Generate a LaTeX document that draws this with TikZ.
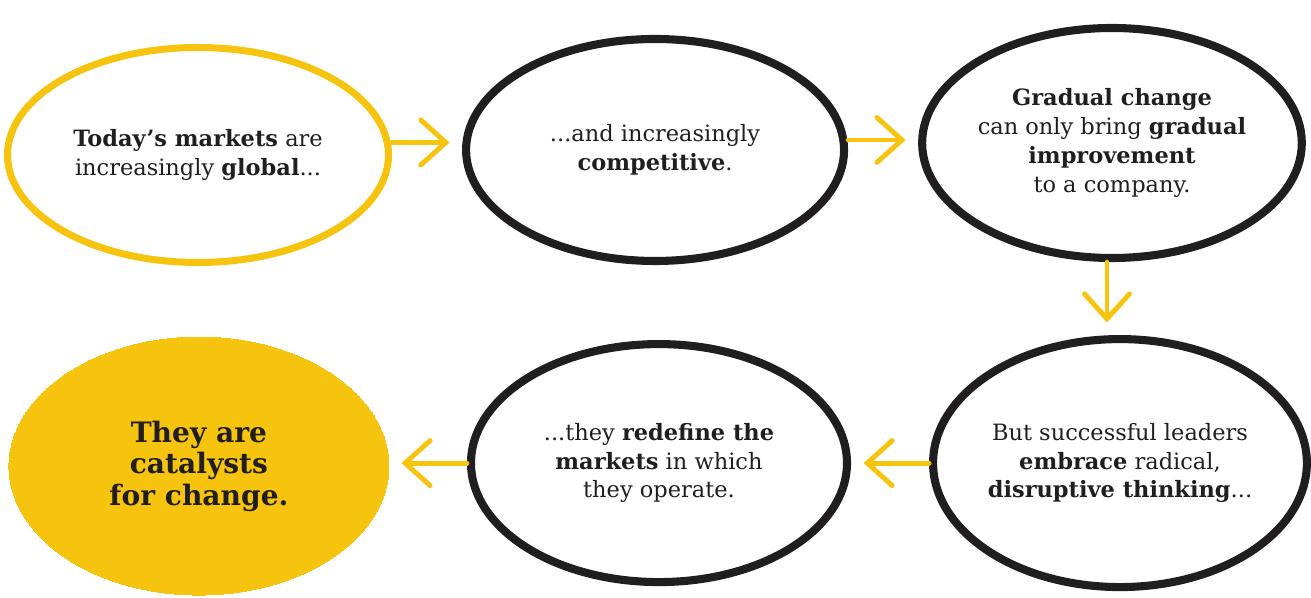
\documentclass[tikz,border=0pt]{standalone}
\usepackage{fontspec}
\setmainfont{DejaVu Serif}
\usepackage{xcolor}
\usepackage{tikz}
\usetikzlibrary{shapes.geometric, arrows.meta, positioning}

\definecolor{mktyellow}{RGB}{246,196,14}
\definecolor{inkblack}{RGB}{32,30,30}

\begin{document}
\begin{tikzpicture}[
    bubble/.style={ellipse, draw=inkblack, line width=4.6pt, align=center, inner sep=0pt, text=inkblack, font=\fontsize{12.8}{16.4}\selectfont},
    startbubble/.style={bubble, draw=mktyellow, line width=4pt},
    endbubble/.style={bubble, draw=mktyellow, fill=mktyellow, line width=0pt, font=\fontsize{16}{18}\selectfont\bfseries},
    flow/.style={-{Straight Barb[length=5mm, width=9mm, line cap=round]}, line width=2.8pt, draw=mktyellow, line cap=round, shorten >=2.5mm}
]
\useasboundingbox (0,0) rectangle (26.22,11.96);

\node[startbubble, minimum width=7.62cm, minimum height=4.3cm] (markets) at (3.96,8.86) {\textbf{Today's markets} are\\increasingly \textbf{global}...};

\node[bubble, minimum width=7.56cm, minimum height=4.44cm, right=1.4cm of markets, yshift=0.1cm] (compete) {...and increasingly\\\textbf{competitive}.};

\node[bubble, minimum width=7.58cm, minimum height=4.6cm, right=1.4cm of compete, yshift=0.14cm] (gradual) {\textbf{Gradual change}\\can only bring \textbf{gradual}\\\textbf{improvement}\\to a company.};

\node[bubble, minimum width=7.44cm, minimum height=4.96cm, below=1.46cm of gradual, xshift=0.16cm] (leaders) {But successful leaders\\\textbf{embrace} radical,\\\textbf{disruptive thinking}...};

\node[bubble, minimum width=7.52cm, minimum height=4.76cm, left=1.56cm of leaders] (redefine) {...they \textbf{redefine the}\\\textbf{markets} in which\\they operate.};

\node[endbubble, minimum width=7.6cm, minimum height=5.16cm, left=1.56cm of redefine, yshift=-0.06cm] (catalyst) {They are\\catalysts\\for change.};

\draw[flow] ([yshift=0.25cm]markets.east) -- ([yshift=0.25cm]markets.east -| compete.west);
\draw[flow] ([yshift=0.2cm]compete.east) -- ([yshift=0.2cm]compete.east -| gradual.west);
\draw[flow] ([xshift=-0.1cm]gradual.south) -- ([xshift=-0.1cm]gradual.south |- leaders.north);
\draw[flow] (leaders.west) -- (leaders.west -| redefine.east);
\draw[flow] (redefine.west) -- (redefine.west -| catalyst.east);

\end{tikzpicture}
\end{document}
